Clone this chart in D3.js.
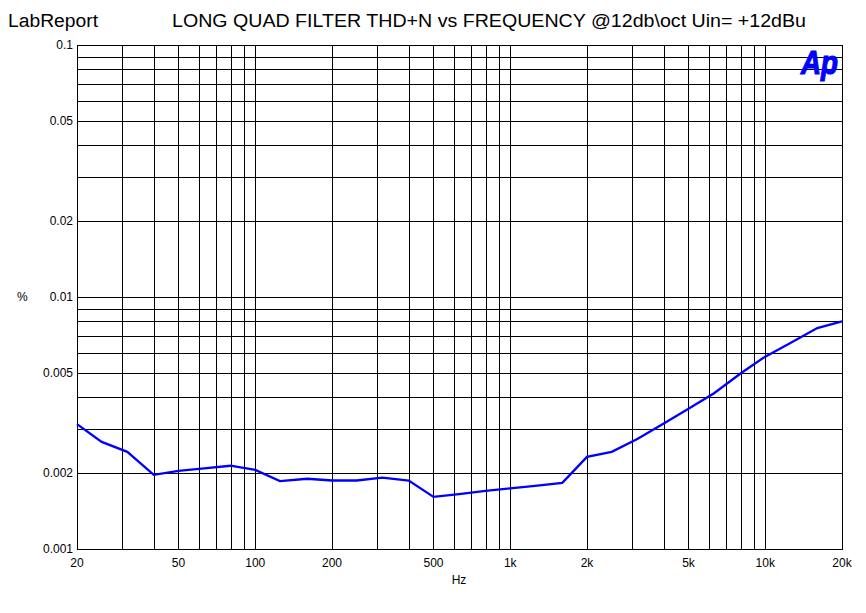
<!DOCTYPE html>
<html><head><meta charset="utf-8">
<script src="https://cdn.jsdelivr.net/npm/d3@7"></script>
<style>body{margin:0;background:#fff}svg{display:block}text{font-family:"Liberation Sans",Arial,sans-serif}</style>
</head><body><svg id="c" width="866" height="613"></svg>
<script>
const freqs = [20,25,31.5,40,50,63,80,100,125,160,200,250,315,400,500,630,800,1000,1250,1600,2000,2500,3150,4000,5000,6300,8000,10000,12500,16000,20000];
const thdn  = [0.00313,0.00266,0.00243,0.00197,0.00204,0.00209,0.00214,0.00206,0.00186,0.0019,0.00187,0.00187,0.00192,0.00187,0.00161,0.00165,0.0017,0.00174,0.00178,0.00183,0.00232,0.00243,0.00273,0.00315,0.0036,0.00415,0.00497,0.0058,0.00655,0.00753,0.00801];
const xTickVals = [20,50,100,200,500,1000,2000,5000,10000,20000];
const xTickLabels = ["20","50","100","200","500","1k","2k","5k","10k","20k"];
const yTickVals = [0.1,0.05,0.02,0.01,0.005,0.002,0.001];
const yTickLabels = ["0.1","0.05","0.02","0.01","0.005","0.002","0.001"];
const xGrid = [30,40,50,60,70,80,90,100,200,300,400,500,600,700,800,900,1000,2000,3000,4000,5000,6000,7000,8000,9000,10000];
const yGrid = [0.002,0.003,0.004,0.005,0.006,0.007,0.008,0.009,0.01,0.02,0.03,0.04,0.05,0.06,0.07,0.08,0.09];

const svg = d3.select("#c");
const L=77,R=842,T=45,B=549;
const x = d3.scaleLog().domain([20,20000]).range([L,R]);
const y = d3.scaleLog().domain([0.001,0.1]).range([B,T]);

svg.append("g").selectAll("line").data(xGrid).join("line")
  .attr("x1",d=>Math.round(x(d))+0.5).attr("x2",d=>Math.round(x(d))+0.5)
  .attr("y1",T).attr("y2",B).attr("stroke","#000").attr("stroke-width",1);
svg.append("g").selectAll("line").data(yGrid).join("line")
  .attr("y1",d=>Math.round(y(d))+0.5).attr("y2",d=>Math.round(y(d))+0.5)
  .attr("x1",L).attr("x2",R).attr("stroke","#000").attr("stroke-width",1);
svg.append("rect").attr("x",L+0.5).attr("y",T+0.5).attr("width",R-L).attr("height",B-T)
  .attr("fill","none").attr("stroke","#000").attr("stroke-width",1);

svg.append("g").selectAll("text").data(yTickVals).join("text")
  .attr("x",73).attr("y",d=>y(d)+4).attr("text-anchor","end").attr("font-size",12)
  .text((d,i)=>yTickLabels[i]);
svg.append("g").selectAll("text").data(xTickVals).join("text")
  .attr("x",d=>x(d)).attr("y",567).attr("text-anchor","middle").attr("font-size",12)
  .text((d,i)=>xTickLabels[i]);

svg.append("text").attr("x",17).attr("y",301).attr("font-size",12).text("%");
svg.append("text").attr("x",459).attr("y",584).attr("text-anchor","middle").attr("font-size",12).text("Hz");
svg.append("text").attr("x",8).attr("y",27).attr("font-size",18).attr("textLength",90).attr("lengthAdjust","spacingAndGlyphs").text("LabReport");
svg.append("text").attr("x",172).attr("y",27).attr("font-size",18).attr("textLength",634).attr("lengthAdjust","spacingAndGlyphs").text("LONG QUAD FILTER THD+N vs FREQUENCY @12db\\oct Uin= +12dBu");

svg.append("text").attr("x",801).attr("y",74).attr("font-size",33).attr("font-weight","bold").attr("font-style","italic")
  .attr("fill","#0000ff").attr("stroke","#0000ff").attr("stroke-width",1.2)
  .attr("textLength",37).attr("lengthAdjust","spacingAndGlyphs").text("Ap");

const line = d3.line().x((d,i)=>x(freqs[i])).y(d=>y(d));
svg.append("path").datum(thdn).attr("d",line).attr("fill","none").attr("stroke","#0000ff").attr("stroke-width",2.3);
</script></body></html>
